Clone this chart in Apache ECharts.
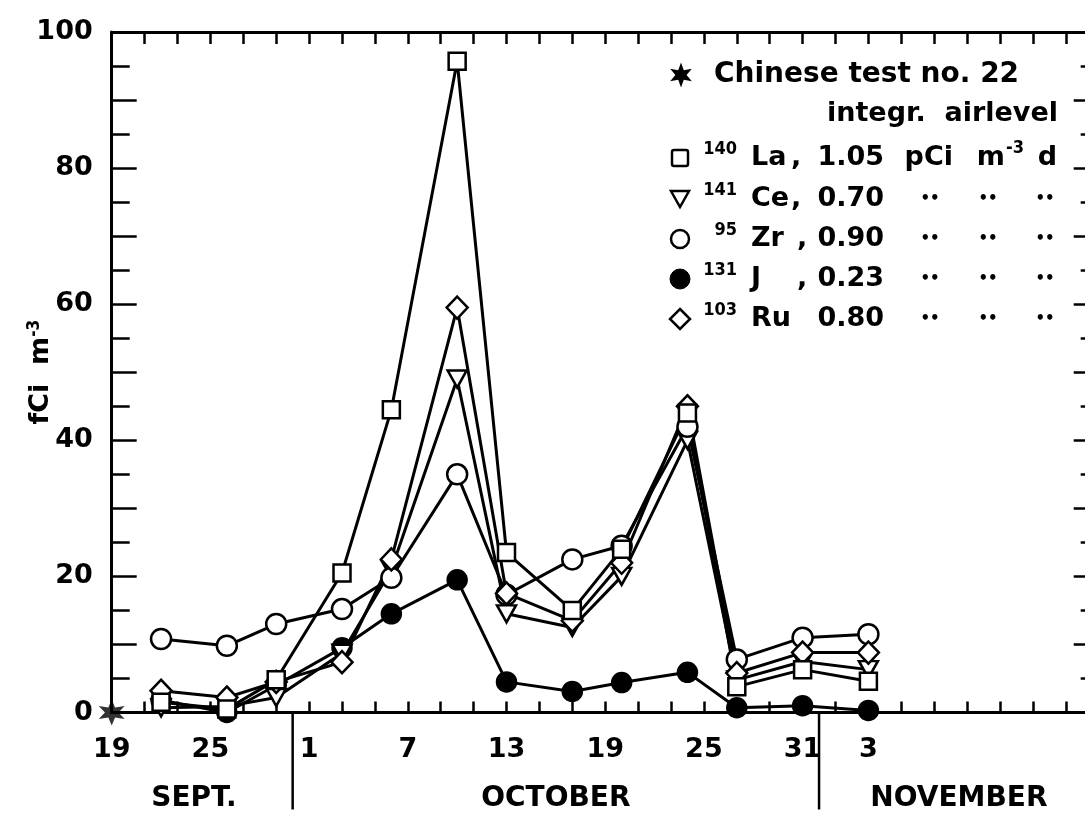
<!DOCTYPE html>
<html>
<head>
<meta charset="utf-8">
<script src="https://cdn.jsdelivr.net/npm/echarts@6/dist/echarts.min.js"></script>
<style>
  html, body { margin: 0; padding: 0; background: #fff; }
  #chart { width: 1085px; height: 814px; }
</style>
</head>
<body>
<div id="chart"></div>
<script>
// Sampling days, counted from 19 September (day 0)
const sampleDays = [3, 7, 10, 14, 17, 21, 24, 28, 31, 35, 38, 42, 46];

// Air concentrations, fCi per m^3
const la140 = [1.5, 0.5, 4.8, 20.5, 44.5, 95.7, 23.5, 15.0, 24.0, 44.0, 3.8, 6.3, 4.6];
const ce141 = [0.7, 0.9, 2.2, 8.7, 21.0, 49.0, 14.5, 12.5, 20.0, 40.0, 4.8, 7.5, 6.3];
const zr95  = [10.8, 9.8, 13.0, 15.2, 19.8, 35.0, 17.3, 22.5, 24.5, 42.0, 7.8, 11.0, 11.5];
const j131  = [1.8, 0.0, 4.0, 9.5, 14.5, 19.5, 4.5, 3.1, 4.4, 5.9, 0.7, 1.0, 0.3];
const ru103 = [3.2, 2.2, 4.5, 7.4, 22.5, 59.5, 17.5, 13.5, 22.0, 45.0, 5.8, 8.8, 8.8];

// Day of Chinese test no. 22
const testDay = [0];
const testValue = [0];

// Date labels along the time axis
const tickDays = [0, 6, 12, 18, 24, 30, 36, 42, 46];
const tickLabels = ['19', '25', '1', '7', '13', '19', '25', '31', '3'];
const monthNames = ['SEPT.', 'OCTOBER', 'NOVEMBER'];
const monthCentres = [5, 27, 51.5];
const monthBreaks = [11, 43];

// Legend rows: isotope, element, integrated air level
const isotopes = ['140', '141', '95', '131', '103'];
const elements = ['La', 'Ce', 'Zr', 'J', 'Ru'];
const integrals = ['1.05', '0.70', '0.90', '0.23', '0.80'];

const FONT = 'DejaVu Sans';
const FONT_NARROW = 'DejaVu Sans Condensed';
const INK = '#000';

// six-armed asterisk outline
function starOutline(cx, cy, rOut, rIn) {
  const p = [];
  for (let i = 0; i < 12; i++) {
    const a = (i * 30 - 90) * Math.PI / 180;
    const r = i % 2 === 0 ? rOut : rIn;
    p.push([cx + r * Math.cos(a), cy + r * Math.sin(a)]);
  }
  return p;
}
const starPath = 'path://' + starOutline(1, 1, 1, 0.45)
  .map((q, i) => (i ? 'L' : 'M') + q[0].toFixed(3) + ' ' + q[1].toFixed(3)).join(' ') + ' Z';

function pairs(values) {
  return sampleDays.map((d, i) => [d, values[i]]);
}

function lineSeries(name, values, symbol, size, fill, extra) {
  return Object.assign({
    name: name,
    type: 'line',
    data: pairs(values),
    symbol: symbol,
    symbolSize: size,
    showAllSymbol: true,
    clip: false,
    lineStyle: { color: INK, width: 3 },
    itemStyle: { color: fill, borderColor: INK, borderWidth: 2.5 },
    emphasis: { disabled: true },
    z: 3
  }, extra || {});
}

const tickText = {};
tickDays.forEach((d, i) => { tickText[d] = tickLabels[i]; });

const chart = echarts.init(document.getElementById('chart'), null, { renderer: 'canvas' });

const axisLine = { show: true, onZero: false, lineStyle: { color: INK, width: 3 } };

const option = {
  backgroundColor: '#fff',
  animation: false,
  grid: { left: 111.7, right: -13.7, top: 32, bottom: 101.5, containLabel: false, outerBoundsMode: 'none' },
  xAxis: [
    {
      type: 'value', position: 'bottom', min: 0, max: 60, interval: 2,
      axisLine: axisLine,
      axisTick: { show: true, inside: true, length: 11, lineStyle: { color: INK, width: 2.5 } },
      axisLabel: {
        show: true, margin: 24, color: INK, fontFamily: FONT, fontWeight: 'bold', fontSize: 27,
        showMinLabel: true, showMaxLabel: true, hideOverlap: false,
        formatter: v => (tickText[v] !== undefined ? tickText[v] : '')
      },
      splitLine: { show: false }
    },
    {
      type: 'value', position: 'top', min: 0, max: 60, interval: 2,
      axisLine: axisLine,
      axisTick: { show: true, inside: true, length: 12, lineStyle: { color: INK, width: 2.5 } },
      axisLabel: { show: false },
      splitLine: { show: false }
    }
  ],
  yAxis: [
    {
      type: 'value', position: 'left', min: 0, max: 100, interval: 10,
      axisLine: axisLine,
      axisTick: { show: true, inside: true, length: 25, lineStyle: { color: INK, width: 2.5 } },
      minorTick: { show: true, splitNumber: 2, length: 18, lineStyle: { color: INK, width: 2.5 } },
      axisLabel: {
        show: true, margin: 19, color: INK, fontFamily: FONT, fontWeight: 'bold', fontSize: 27,
        formatter: v => (v % 20 === 0 ? String(v) : '')
      },
      splitLine: { show: false },
      minorSplitLine: { show: false },
      name: 'fCi  m{sup|-3}',
      nameLocation: 'middle',
      nameGap: 56,
      nameMoveOverlap: false,
      nameRotate: 90,
      nameTextStyle: {
        color: INK, fontFamily: FONT, fontWeight: 'bold', fontSize: 27, lineHeight: 30,
        rich: {
          sup: { fontFamily: FONT_NARROW, fontWeight: 'bold', fontSize: 17, lineHeight: 16, verticalAlign: 'top', color: INK }
        }
      }
    },
    {
      type: 'value', position: 'right', min: 0, max: 100, interval: 10,
      axisLine: axisLine,
      axisTick: { show: true, inside: true, length: 25, lineStyle: { color: INK, width: 2.5 } },
      minorTick: { show: true, splitNumber: 2, length: 18, lineStyle: { color: INK, width: 2.5 } },
      axisLabel: { show: false },
      splitLine: { show: false }
    }
  ],
  series: [
    lineSeries('131J', j131, 'circle', 19, INK),
    lineSeries('141Ce', ce141, 'triangle', [19, 17], '#fff', { symbolRotate: 180 }),
    lineSeries('95Zr', zr95, 'circle', 20, '#fff'),
    lineSeries('103Ru', ru103, 'diamond', [21, 22], '#fff'),
    lineSeries('140La', la140, 'rect', 17, '#fff'),
    {
      name: 'Chinese test no. 22',
      type: 'scatter',
      data: testDay.map((d, i) => [d, testValue[i]]),
      symbol: starPath,
      symbolSize: 26,
      clip: false,
      itemStyle: { color: INK },
      emphasis: { disabled: true },
      z: 5
    }
  ]
};

chart.setOption(option);

// ---- month separators, month names and the key ----
const toX = d => chart.convertToPixel({ xAxisIndex: 0 }, d);
const axisY = chart.convertToPixel({ yAxisIndex: 0 }, 0);

const graphics = [];

monthBreaks.forEach(d => {
  const x = toX(d);
  graphics.push({
    type: 'line', silent: true,
    shape: { x1: x, y1: axisY, x2: x, y2: axisY + 97 },
    style: { stroke: INK, lineWidth: 2.5 }
  });
});

monthNames.forEach((m, i) => {
  graphics.push({
    type: 'text', silent: true,
    x: toX(monthCentres[i]), y: axisY + 86,
    style: {
      text: m, fill: INK, font: 'bold 28px "' + FONT + '"',
      textAlign: 'center', textVerticalAlign: 'middle'
    }
  });
});

const keyFont = 'bold 27px "' + FONT + '"';
const headFont = 'bold 28px "' + FONT + '"';
const supFont = 'bold 18px "' + FONT_NARROW + '"';
const dittoFont = 'bold 15px "' + FONT + '"';

function txt(x, y, s, font, align) {
  return {
    type: 'text', silent: true, x: x, y: y,
    style: { text: s, fill: INK, font: font, textAlign: align || 'left', textVerticalAlign: 'middle' }
  };
}

// key header
graphics.push({
  type: 'polygon', silent: true,
  shape: { points: starOutline(681, 75, 12.5, 5.6) },
  style: { fill: INK }
});
graphics.push(txt(714, 75, 'Chinese test no. 22', headFont));
graphics.push(txt(1058, 114, 'integr.  airlevel', keyFont, 'right'));

// key symbols
const rowY = [158, 199, 239, 279, 319];
const iconX = 680;
function keyIcon(i) {
  const cx = iconX, cy = rowY[i];
  const st = { fill: '#fff', stroke: INK, lineWidth: 2.5 };
  if (i === 0) return { type: 'rect', shape: { x: cx - 8, y: cy - 8, width: 16, height: 16, r: 2 }, style: st };
  if (i === 1) return { type: 'polygon', shape: { points: [[cx - 9, cy - 8], [cx + 9, cy - 8], [cx, cy + 8]] }, style: st };
  if (i === 2) return { type: 'circle', shape: { cx: cx, cy: cy, r: 9 }, style: st };
  if (i === 3) return { type: 'circle', shape: { cx: cx, cy: cy, r: 10 }, style: { fill: INK, stroke: INK, lineWidth: 1 } };
  return { type: 'polygon', shape: { points: [[cx, cy - 10], [cx + 10, cy], [cx, cy + 10], [cx - 10, cy]] }, style: st };
}

elements.forEach((el, i) => {
  const y = rowY[i];
  graphics.push(Object.assign({ silent: true }, keyIcon(i)));
  graphics.push(txt(737, y - 9, isotopes[i], supFont, 'right'));
  graphics.push(txt(751, y, el, keyFont));
  if (el !== 'Ru') graphics.push(txt(el === 'La' || el === 'Ce' ? 791 : 797, y, ',', keyFont));
  graphics.push(txt(884, y, integrals[i], keyFont, 'right'));
  if (i === 0) {
    graphics.push(txt(953, y, 'pCi', keyFont, 'right'));
    graphics.push(txt(1005, y, 'm', keyFont, 'right'));
    graphics.push(txt(1006, y - 10, '-3', supFont));
    graphics.push(txt(1057, y, 'd', keyFont, 'right'));
  } else {
    [930, 988, 1045].forEach(x => graphics.push(txt(x, y, '\u2022\u2022', dittoFont, 'center')));
  }
});

chart.setOption({ graphic: graphics });
</script>
</body>
</html>
